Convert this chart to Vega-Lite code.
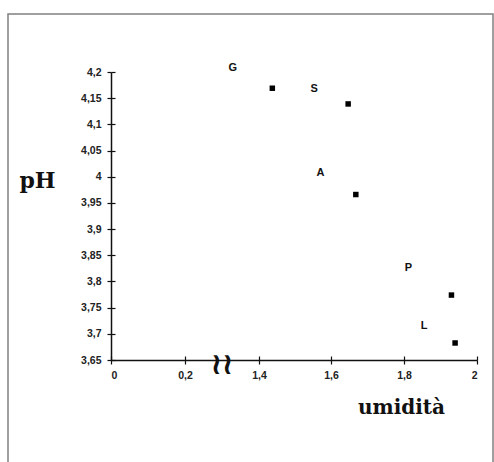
{
  "$schema": "https://vega.github.io/schema/vega-lite/v6.json",
  "width": 485,
  "height": 450,
  "padding": {"left": 8, "top": 14, "right": 1, "bottom": 0},
  "background": "white",
  "config": {
    "view": {"stroke": "#808080", "strokeWidth": 1.5},
    "axis": {
      "domainColor": "#111",
      "domainWidth": 1.5,
      "tickColor": "#111",
      "tickWidth": 1.2,
      "tickSize": 4,
      "grid": false,
      "labelFont": "Liberation Sans",
      "labelFontWeight": "bold",
      "labelFontSize": 10.5,
      "labelColor": "#222",
      "titleFont": "DejaVu Serif",
      "titleFontWeight": "bold",
      "titleFontSize": 20,
      "titleColor": "#111"
    }
  },
  "datasets": {
    "punti": [
      {"sito": "G", "umidita": 1.437, "pH": 4.169, "lx": 0.973, "ly": 4.207},
      {"sito": "S", "umidita": 1.647, "pH": 4.139, "lx": 1.553, "ly": 4.167},
      {"sito": "A", "umidita": 1.668, "pH": 3.966, "lx": 1.571, "ly": 4.008},
      {"sito": "P", "umidita": 1.930, "pH": 3.774, "lx": 1.812, "ly": 3.825},
      {"sito": "L", "umidita": 1.940, "pH": 3.6825, "lx": 1.855, "ly": 3.714}
    ],
    "interruzione": [
      {"simbolo": "≀≀", "umidita": 0.8, "pH": 3.65}
    ]
  },
  "resolve": {"axis": {"x": "independent", "y": "independent"}},
  "layer": [
    {
      "data": {"name": "punti"},
      "mark": {"type": "point", "shape": "square", "filled": true, "color": "#000", "size": 30, "opacity": 1},
      "encoding": {
        "x": {
          "field": "umidita", "type": "quantitative",
          "scale": {"domain": [0, 0.2, 1.4, 1.6, 1.8, 2], "range": [103, 177, 251, 323, 396, 469], "nice": false, "zero": false},
          "axis": {
            "orient": "bottom", "offset": -104,
            "values": [0, 0.2, 1.4, 1.6, 1.8, 2],
            "labelExpr": "replace(toString(datum.value), '.', ',')",
            "labelPadding": 6,
            "title": "umidità",
            "titleX": 393, "titleY": 47, "titleAlign": "center", "titleBaseline": "middle"
          }
        },
        "y": {
          "field": "pH", "type": "quantitative",
          "scale": {"domain": [3.65, 4.2], "range": [346, 58], "nice": false, "zero": false},
          "axis": {
            "orient": "left", "offset": -103,
            "values": [3.65, 3.7, 3.75, 3.8, 3.85, 3.9, 3.95, 4, 4.05, 4.1, 4.15, 4.2],
            "labelExpr": "replace(toString(datum.value), '.', ',')",
            "labelPadding": 6,
            "title": "pH",
            "titleFontSize": 22,
            "titleAngle": 0, "titleX": -74, "titleY": 166, "titleAlign": "center", "titleBaseline": "middle"
          }
        }
      }
    },
    {
      "data": {"name": "punti"},
      "mark": {"type": "text", "font": "Liberation Sans", "fontWeight": "bold", "fontSize": 11, "color": "#111", "align": "center", "baseline": "middle"},
      "encoding": {
        "x": {"field": "lx", "type": "quantitative",
          "axis": {"orient": "bottom", "offset": -104, "labels": false, "domain": false, "tickSize": -4, "values": [0, 0.2, 1.4, 1.6, 1.8, 2], "title": null}},
        "y": {"field": "ly", "type": "quantitative",
          "axis": {"orient": "left", "offset": -103, "labels": false, "domain": false, "tickSize": -4, "values": [3.65, 3.7, 3.75, 3.8, 3.85, 3.9, 3.95, 4, 4.05, 4.1, 4.15, 4.2], "title": null}},
        "text": {"field": "sito"}
      }
    },
    {
      "data": {"name": "interruzione"},
      "mark": {"type": "text", "font": "DejaVu Sans", "fontSize": 30, "fontWeight": "bold", "color": "#111", "align": "center", "baseline": "middle", "dy": 5},
      "encoding": {
        "x": {"field": "umidita", "type": "quantitative", "axis": null},
        "y": {"field": "pH", "type": "quantitative", "axis": null},
        "text": {"field": "simbolo"}
      }
    }
  ]
}
